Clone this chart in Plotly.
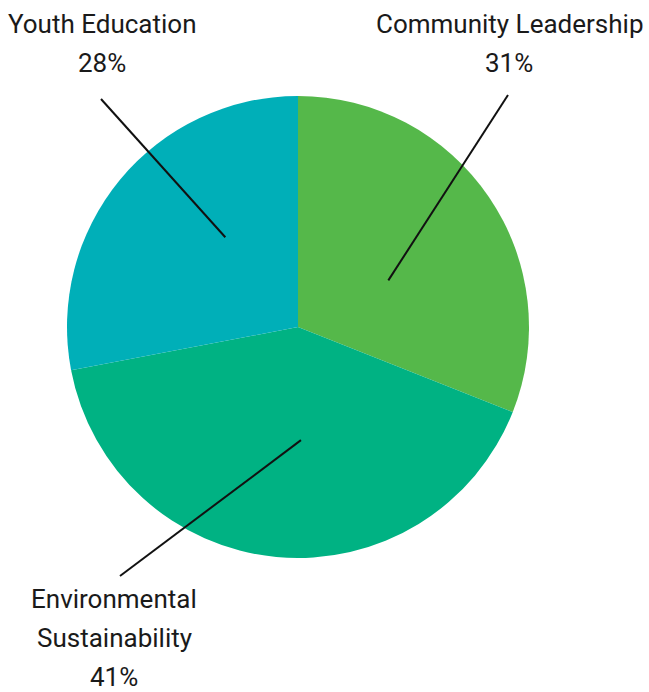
import math
import plotly.graph_objects as go

labels = ["Community Leadership", "Environmental Sustainability", "Youth Education"]
label_lines = [["Community Leadership"], ["Environmental", "Sustainability"], ["Youth Education"]]
values = [31, 41, 28]
colors = ["#55b84a", "#00b283", "#00afb8"]

W, H = 649, 692
# pie placement (pixels)
CX, CY, R = 298, 327, 231

# label layout (pixels): text centre x, first line y, leader-line outer end
text_x = [509, 114, 102]
text_y0 = [24, 599, 24]
LINE_STEP = 39
line_outer = [(508, 95), (120, 576), (101, 99)]
angle_adjust = [6.9, -6.9, 11.4]   # degrees
inner_frac = [0.44, 0.49, 0.50]

fig = go.Figure(go.Pie(
    labels=labels, values=values, sort=False, direction="clockwise",
    rotation=0, marker=dict(colors=colors, line=dict(width=0)),
    textinfo="none", hoverinfo="label+percent", showlegend=False,
    domain=dict(x=[(CX - R) / W, (CX + R) / W], y=[1 - (CY + R) / H, 1 - (CY - R) / H]),
))

def px(x, y):
    return x / W, 1 - y / H

total = sum(values)
cum = 0
shapes, annotations = [], []
for i, v in enumerate(values):
    mid = (cum + v / 2) / total * 360 + angle_adjust[i]
    cum += v
    a = math.radians(mid)
    ix = CX + inner_frac[i] * R * math.sin(a)
    iy = CY - inner_frac[i] * R * math.cos(a)
    x0, y0 = px(ix, iy)
    x1, y1 = px(*line_outer[i])
    shapes.append(dict(type="line", xref="paper", yref="paper", x0=x0, y0=y0, x1=x1, y1=y1,
                       line=dict(color="#111111", width=2)))
    lines = label_lines[i] + [f"{v}%"]
    for k, t in enumerate(lines):
        tx, ty = px(text_x[i], text_y0[i] + k * LINE_STEP)
        annotations.append(dict(text=t, x=tx, y=ty, xref="paper", yref="paper",
                                xanchor="center", yanchor="middle", showarrow=False, align="center",
                                font=dict(family="Roboto", size=26, color="#1a1a1a")))

fig.update_layout(width=W, height=H, margin=dict(l=0, r=0, t=0, b=0),
                  paper_bgcolor="white", plot_bgcolor="white",
                  shapes=shapes, annotations=annotations)
fig.write_html("out.html")
